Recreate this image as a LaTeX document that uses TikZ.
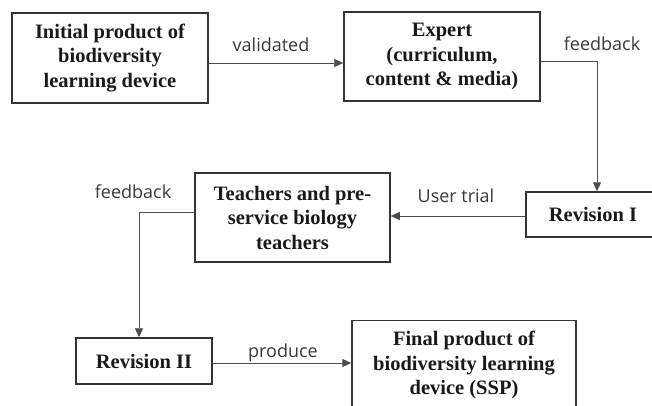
\documentclass[tikz,border=0pt]{standalone}
\usepackage{fontspec}
\setmainfont{Liberation Serif}
\newfontfamily\labelfont{Open Sans}
\usepackage{tikz}
\usetikzlibrary{arrows.meta}
\usetikzlibrary{calc}

\begin{document}
\begin{tikzpicture}[
    x=1pt, y=1pt,
    box/.style={draw=black!80, line width=1.5pt, align=center, inner sep=0pt,
        font=\fontsize{20.5}{24.5}\selectfont\bfseries, text=black!90},
    link line/.style={draw=black!70, line width=0.9pt},
    arr/.style={link line, -{Triangle[length=9pt,width=8pt]}},
    step label/.style={font=\labelfont\fontsize{18}{21}\selectfont, text=black!78},
    every node/.style={color=black}
    ]

    % page
    \clip (0,0) rectangle (652,405);

    % boxes
    \node[box, minimum width=196, minimum height=90] (init) at (110,347) {Initial product of\\biodiversity\\learning device};
    \node[box, minimum width=196, minimum height=89] (expert) at (442,348.5) {Expert\\(curriculum,\\content \& media)};
    \node[box, minimum width=134, minimum height=45] (revone) at (593,190.5) {Revision I};
    \node[box, minimum width=195, minimum height=89] (teach) at (292.5,187.5) {Teachers and pre-\\service biology\\teachers};
    \node[box, minimum width=136, minimum height=46] (revtwo) at (144,44) {Revision II};
    \node[box, minimum width=224, minimum height=89] (final) at (464,40) {Final product of\\biodiversity learning\\device (SSP)};

    % links
    \draw[arr] (init.east |- 0,342) -- (expert.west |- 0,342);
    \draw[arr] (expert.east |- 0,344) -| ([xshift=4pt]revone.north);
    \draw[arr] (revone.west |- 0,189) -- (teach.east |- 0,189);
    \draw[arr] (teach.west |- 0,193) -| ([xshift=-5pt]revtwo.north);
    \draw[arr] (revtwo.east |- 0,42) -- (final.west |- 0,42);

    % labels
    \node[step label] (lvalid) at (271,360) {validated};
    \node[step label] (lfeedone) at (602,361) {feedback};
    \node[step label] (ltrial) at (456,209) {User trial};
    \node[step label] (lfeedtwo) at (133,213) {feedback};
    \node[step label] (lproduce) at (283,52) {produce};

\end{tikzpicture}
\end{document}
